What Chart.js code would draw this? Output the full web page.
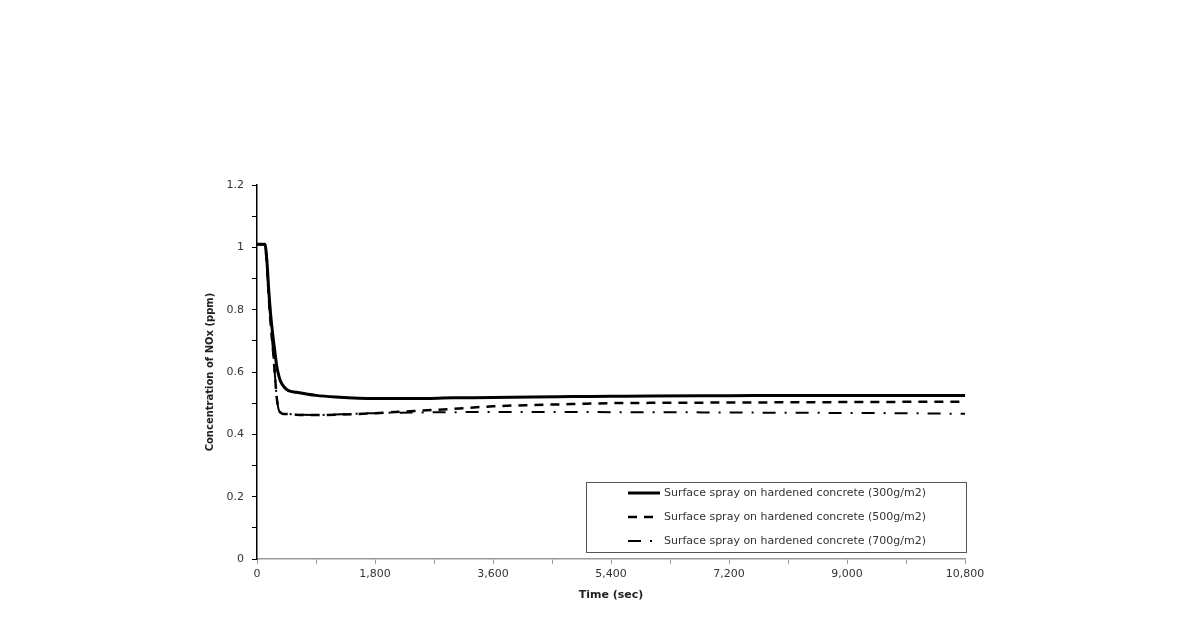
<!DOCTYPE html>
<html>
<head>
<meta charset="utf-8">
<script src="https://cdn.jsdelivr.net/npm/chart.js@4.4.0/dist/chart.umd.min.js"></script>
<style>
  html, body { margin: 0; padding: 0; background: #fff; }
  #wrap { width: 1190px; height: 641px; }
</style>
</head>
<body>
<div id="wrap"><canvas id="chart"></canvas></div>
<script>
// time in seconds
const times = [0, 60, 120, 150, 180, 210, 240, 270, 300, 330, 360, 420, 480, 600, 900, 1200,
  1800, 2400, 3000, 3600, 4200, 4800, 5400, 6000, 7200, 8400, 9600, 10800];

// NOx concentration (ppm)
const spray300 = [1.01, 1.01, 1.01, 0.96, 0.86, 0.78, 0.72, 0.67, 0.62, 0.59, 0.57, 0.55, 0.54, 0.535,
  0.525, 0.52, 0.515, 0.515, 0.517, 0.518, 0.52, 0.521, 0.522, 0.523, 0.524, 0.525, 0.525, 0.525];
const spray500 = [1.01, 1.01, 1.01, 0.95, 0.84, 0.75, 0.68, 0.60, 0.52, 0.48, 0.47, 0.465, 0.465, 0.463,
  0.462, 0.463, 0.468, 0.475, 0.482, 0.49, 0.494, 0.497, 0.50, 0.501, 0.502, 0.503, 0.504, 0.505];
const spray700 = [1.01, 1.01, 1.01, 0.95, 0.84, 0.75, 0.68, 0.60, 0.52, 0.48, 0.47, 0.465, 0.465, 0.463,
  0.462, 0.464, 0.468, 0.47, 0.471, 0.472, 0.472, 0.472, 0.471, 0.471, 0.47, 0.469, 0.468, 0.466];

const seriesLabels = [
  'Surface spray on hardened concrete (300g/m2)',
  'Surface spray on hardened concrete (500g/m2)',
  'Surface spray on hardened concrete (700g/m2)'
];

const xTicks = [0, 1800, 3600, 5400, 7200, 9000, 10800];
const yTicks = [0, 0.2, 0.4, 0.6, 0.8, 1, 1.2];

const toPoints = (vals) => vals.map((v, i) => ({ x: times[i], y: v }));

const FONT = '"DejaVu Sans", sans-serif';

// legend drawn inside the plot area, bottom right
const boxLegend = {
  id: 'boxLegend',
  afterDraw(chart) {
    const { ctx, chartArea } = chart;
    const w = 380, h = 70;
    const x0 = chartArea.right - w + 1;
    const y0 = chartArea.bottom - 7 - h;
    ctx.save();
    ctx.strokeStyle = '#555';
    ctx.lineWidth = 1;
    ctx.strokeRect(x0 + 0.5, y0 + 0.5, w, h);
    ctx.font = '11px ' + FONT;
    ctx.fillStyle = '#333';
    ctx.textBaseline = 'middle';
    chart.data.datasets.forEach((ds, i) => {
      const y = y0 + 11 + i * 24;
      ctx.beginPath();
      ctx.strokeStyle = '#000';
      ctx.lineWidth = ds.borderWidth;
      ctx.setLineDash(ds.borderDash || []);
      ctx.moveTo(x0 + 42, y);
      ctx.lineTo(x0 + 74, y);
      ctx.stroke();
      ctx.setLineDash([]);
      ctx.fillText(ds.label, x0 + 78, y);
    });
    ctx.restore();
  }
};

new Chart(document.getElementById('chart'), {
  type: 'line',
  data: {
    datasets: [
      { label: seriesLabels[0], data: toPoints(spray300), borderColor: '#000', borderWidth: 3, pointRadius: 0, cubicInterpolationMode: 'monotone' },
      { label: seriesLabels[1], data: toPoints(spray500), borderColor: '#000', borderWidth: 2.5, borderDash: [9, 7], pointRadius: 0, cubicInterpolationMode: 'monotone' },
      { label: seriesLabels[2], data: toPoints(spray700), borderColor: '#000', borderWidth: 2, borderDash: [13, 9, 2, 9], pointRadius: 0, cubicInterpolationMode: 'monotone' }
    ]
  },
  options: {
    responsive: true,
    maintainAspectRatio: false,
    animation: false,
    layout: { padding: { left: 200, right: 225, top: 185, bottom: 35 } },
    plugins: {
      legend: { display: false },
      tooltip: { enabled: false }
    },
    scales: {
      x: {
        type: 'linear',
        min: 0,
        max: 10800,
        afterFit: (s) => { s.height = 47; },
        ticks: {
          stepSize: 900,
          autoSkip: false,
          maxRotation: 0,
          padding: 4,
          color: '#333',
          font: { family: FONT, size: 11 },
          callback: (v) => xTicks.includes(v) ? v.toLocaleString('en-US') : ''
        },
        grid: { drawOnChartArea: false, tickLength: 5, color: '#999' },
        border: { color: '#999', width: 1.5 },
        title: { display: true, text: 'Time (sec)', color: '#222', font: { family: FONT, size: 11, weight: 'bold' }, padding: { top: 2 } }
      },
      y: {
        min: 0,
        max: 1.2,
        afterFit: (s) => { s.width = 57; },
        ticks: {
          stepSize: 0.1,
          autoSkip: false,
          padding: 8,
          color: '#333',
          font: { family: FONT, size: 11 },
          callback: (v) => {
            const r = Math.round(v * 10) / 10;
            return yTicks.some(t => Math.abs(t - r) < 1e-9) ? String(r) : '';
          }
        },
        grid: { drawOnChartArea: false, tickLength: 5, color: '#000' },
        border: { color: '#000', width: 1.5 },
        title: { display: true, text: 'Concentration of NOx (ppm)', color: '#222', font: { family: FONT, size: 10, weight: 'bold' }, padding: { bottom: 0 } }
      }
    }
  },
  plugins: [boxLegend]
});
</script>
</body>
</html>
